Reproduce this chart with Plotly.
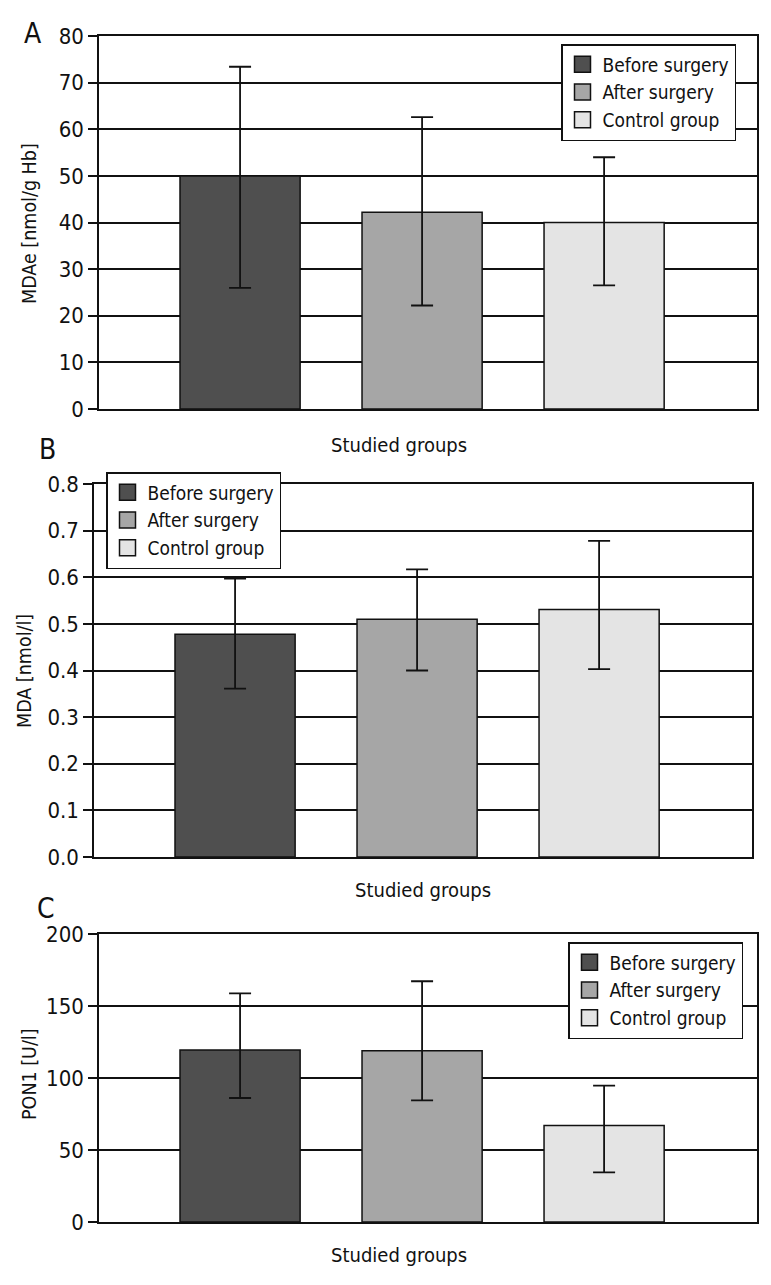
import plotly.graph_objects as go

# ---------------- data ----------------
groups = ["Before surgery", "After surgery", "Control group"]
colors = ["#4f4f4f", "#a6a6a6", "#e4e4e4"]

mdae_mean = [50.0, 42.2, 40.0]
mdae_err_plus = [23.4, 20.4, 14.0]
mdae_err_minus = [24.0, 20.0, 13.5]

mda_mean = [0.478, 0.510, 0.531]
mda_err_plus = [0.119, 0.107, 0.147]
mda_err_minus = [0.117, 0.110, 0.128]

pon1_mean = [119.4, 119.0, 67.1]
pon1_err_plus = [39.4, 48.2, 27.6]
pon1_err_minus = [33.3, 34.5, 32.6]

panel_letters = ["A", "B", "C"]
y_titles = ["MDAe [nmol/g Hb]", "MDA [nmol/l]", "PON1 [U/l]"]
x_title = "Studied groups"

FONT = "DejaVu Sans Condensed, Liberation Sans Narrow, Arial Narrow, sans-serif"
INK = "#111111"
OFF = 8                      # page body margin
W, H = 771 - OFF, 1285 - OFF


def px_x(x):
    return (x - OFF) / W


def px_y(y):
    return 1 - (y - OFF) / H


panels = [
    dict(mean=mdae_mean, plus=mdae_err_plus, minus=mdae_err_minus,
         xpx=(99, 757), ypx=(36, 409), yrange=[0, 80], dtick=10, fmt="d",
         legend_xy=(561, 44)),
    dict(mean=mda_mean, plus=mda_err_plus, minus=mda_err_minus,
         xpx=(94, 752), ypx=(484, 857), yrange=[0, 0.8], dtick=0.1, fmt=".1f",
         legend_xy=(106, 472)),
    dict(mean=pon1_mean, plus=pon1_err_plus, minus=pon1_err_minus,
         xpx=(99, 757), ypx=(934, 1222), yrange=[0, 200], dtick=50, fmt="d",
         legend_xy=(568, 942)),
]

fig = go.Figure()
layout = dict(
    width=W, height=H,
    margin=dict(l=0, r=0, t=0, b=0, autoexpand=False),
    paper_bgcolor="white", plot_bgcolor="white",
    font=dict(family=FONT, color=INK, size=19),
    barmode="overlay",
    annotations=[],
)

for p, panel in enumerate(panels):
    sfx = "" if p == 0 else str(p + 1)
    legname = "legend" + sfx
    for i, g in enumerate(groups):
        fig.add_trace(go.Bar(
            x=[g], y=[panel["mean"][i]],
            name=g,
            width=0.66,
            marker=dict(color=colors[i], line=dict(color=INK, width=1.5)),
            error_y=dict(type="data", symmetric=False,
                         array=[panel["plus"][i]], arrayminus=[panel["minus"][i]],
                         color=INK, thickness=1.8, width=11),
            xaxis="x" + sfx, yaxis="y" + sfx,
            legendgroup=g + sfx,
            showlegend=False,
        ))
        # legend entry with a larger square swatch
        fig.add_trace(go.Scatter(
            x=[None], y=[None], mode="markers", name=g,
            marker=dict(symbol="square", size=16, color=colors[i],
                        line=dict(color=INK, width=1.5)),
            xaxis="x" + sfx, yaxis="y" + sfx,
            legend=legname, legendgroup=g + sfx,
            showlegend=True, hoverinfo="skip",
        ))
    x0, x1 = panel["xpx"]
    y0, y1 = panel["ypx"]
    layout["xaxis" + sfx] = dict(
        domain=[px_x(x0), px_x(x1)], anchor="y" + sfx,
        type="category", categoryorder="array", categoryarray=groups,
        range=[-0.775, 2.84], automargin=False,
        showticklabels=False, ticks="", showgrid=False, zeroline=False,
        showline=True, linecolor=INK, linewidth=1.5, mirror=True,
    )
    layout["yaxis" + sfx] = dict(
        domain=[px_y(y1), px_y(y0)], anchor="x" + sfx,
        range=panel["yrange"], dtick=panel["dtick"], tick0=0,
        tickformat=panel["fmt"], automargin=False,
        showgrid=True, gridcolor=INK, gridwidth=1.5, zeroline=False,
        showline=True, linecolor=INK, linewidth=1.5, mirror=True,
        ticks="outside", ticklen=9, tickwidth=1.5, tickcolor=INK,
        tickfont=dict(size=22, family=FONT, color=INK),
    )
    lx, ly = panel["legend_xy"]
    layout[legname] = dict(
        x=px_x(lx), y=px_y(ly), xanchor="left", yanchor="top",
        bgcolor="white", bordercolor=INK, borderwidth=1.5,
        font=dict(size=19, family=FONT, color=INK),
        traceorder="normal", tracegroupgap=0, itemsizing="trace",
    )

# panel letters, axis titles
letter_pos = [(33, 34), (47, 449), (46, 908)]
ytitle_pos = [(30, 224), (24, 671), (29, 1074)]
xtitle_pos = [(399, 445), (423, 890), (399, 1255)]
for p in range(3):
    lx, ly = letter_pos[p]
    layout["annotations"].append(dict(
        text=panel_letters[p], x=px_x(lx), y=px_y(ly), xref="paper", yref="paper",
        showarrow=False, font=dict(size=28, family=FONT, color=INK),
        xanchor="center", yanchor="middle"))
    tx, ty = ytitle_pos[p]
    layout["annotations"].append(dict(
        text=y_titles[p], x=px_x(tx), y=px_y(ty), xref="paper", yref="paper",
        showarrow=False, textangle=-90, font=dict(size=19.5, family=FONT, color=INK),
        xanchor="center", yanchor="middle"))
    xx, xy = xtitle_pos[p]
    layout["annotations"].append(dict(
        text=x_title, x=px_x(xx), y=px_y(xy), xref="paper", yref="paper",
        showarrow=False, font=dict(size=20, family=FONT, color=INK),
        xanchor="center", yanchor="middle"))

fig.update_layout(**layout)
fig.write_html("out.html")
